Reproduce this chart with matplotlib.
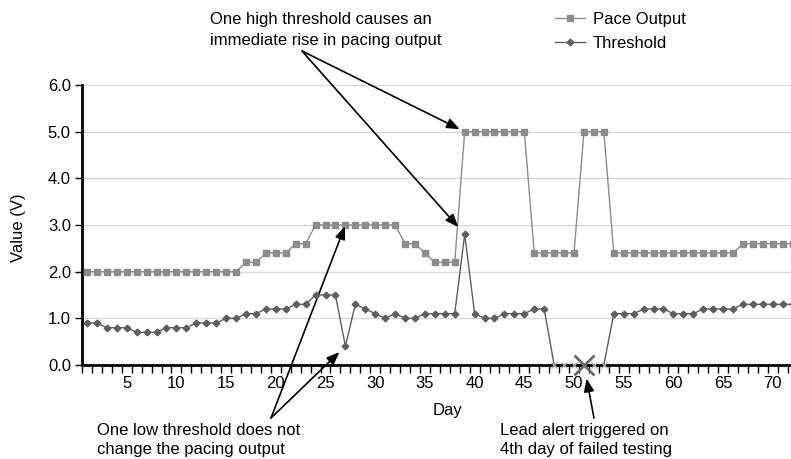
import matplotlib.pyplot as plt
import numpy as np

plt.rcParams['font.family'] = ['Liberation Sans', 'DejaVu Sans']

days = list(range(1, 73))

# pacing output (V)
pace = ([2.0] * 16 + [2.2] * 2 + [2.4] * 3 + [2.6] * 2 + [3.0] * 9 +
        [2.6] * 2 + [2.4] + [2.2] * 3 + [5.0] * 7 + [2.4] * 5 + [5.0] * 3 +
        [2.4] * 13 + [2.6] * 6)

# capture threshold (V), 0 on days the test failed
threshold = ([0.9] * 2 + [0.8] * 3 + [0.7] * 3 + [0.8] * 3 + [0.9] * 3 +
             [1.0] * 2 + [1.1] * 2 + [1.2] * 3 + [1.3] * 2 + [1.5] * 3 +
             [0.4, 1.3, 1.2, 1.1, 1.0, 1.1, 1.0, 1.0, 1.1, 1.1, 1.1, 1.1,
              2.8, 1.1, 1.0, 1.0, 1.1, 1.1, 1.1, 1.2, 1.2] +
             [0.0] * 6 + [1.1] * 3 + [1.2] * 3 + [1.1] * 3 + [1.2] * 4 +
             [1.3] * 6)

failed_days = [48, 49, 50, 51, 52, 53]
alert_day = 51

days = np.array(days)
pace = np.array(pace)
threshold = np.array(threshold)
ok = ~np.isin(days, failed_days)

fig = plt.figure(figsize=(7.91, 4.59), dpi=100)
ax = fig.add_axes([82 / 791, 1 - 365 / 459, 1 - 82 / 791, 280 / 459])

pace_col = '#8c8c8c'
thr_col = '#5e5e5e'

ax.plot(days, pace, color=pace_col, lw=1.0, marker='s', ms=4.4,
        mec=pace_col, mfc=pace_col, zorder=3)
ax.plot(days, threshold, color=thr_col, lw=1.0, zorder=3)
ax.plot(days[ok], threshold[ok], ls='none', marker='D', ms=3.4,
        color=thr_col, zorder=4)
ax.plot(days[~ok], threshold[~ok], ls='none', marker='x', ms=5,
        mew=0.9, color='#a8a8a8', zorder=5, clip_on=False)
ax.plot([alert_day], [0], ls='none', marker='x', ms=14, mew=2,
        color='#6a6a6a', zorder=6, clip_on=False)

# legend top right, outside the axes
ax.plot([], [], color=pace_col, lw=1.0, marker='s', ms=4.4, label='Pace Output')
ax.plot([], [], color=thr_col, lw=1.0, marker='D', ms=3.4, label='Threshold')
h, l = ax.get_legend_handles_labels()
fig.legend(h[-2:], l[-2:], loc='upper left', bbox_to_anchor=(548 / 791, 1 - 5 / 459),
           frameon=False, fontsize=12, handlelength=1.8, handletextpad=0.5,
           labelspacing=0.55, borderaxespad=0)

ax.set_xlim(0.5, 71.83)
ax.set_ylim(0, 6)
ax.set_yticks(np.arange(0, 7, 1.0))
ax.set_yticklabels([f'{v:.1f}' for v in np.arange(0, 7, 1.0)], fontsize=12)
ax.set_xticks(range(5, 71, 5))
ax.set_xticklabels([str(d) for d in range(5, 71, 5)], fontsize=12)
ax.set_xticks(np.arange(0.5, 72, 1.0), minor=True)
ax.tick_params(axis='x', which='major', length=0, pad=8)
ax.tick_params(axis='x', which='minor', length=6, width=1, direction='out')
ax.tick_params(axis='y', length=5, width=1, direction='out', pad=3)
ax.grid(axis='y', color='#d9d9d9', lw=1)
ax.set_axisbelow(True)
for s in ['top', 'right']:
    ax.spines[s].set_visible(False)
for s in ['left', 'bottom']:
    ax.spines[s].set_linewidth(2)
ax.spines['bottom'].set_zorder(4)

fig.text(18 / 791, 1 - 228 / 459, 'Value (V)', rotation=90, fontsize=12,
         ha='center', va='center')
fig.text(447 / 791, 1 - 410 / 459, 'Day', fontsize=12, ha='center', va='center')

fig.text(210 / 791, 1 - 30 / 459,
         'One high threshold causes an\nimmediate rise in pacing output',
         fontsize=12, ha='left', va='center', linespacing=1.5)
fig.text(97 / 791, 1 - 440 / 459,
         'One low threshold does not\nchange the pacing output',
         fontsize=12, ha='left', va='center', linespacing=1.35)
fig.text(500 / 791, 1 - 440 / 459,
         'Lead alert triggered on\n4th day of failed testing',
         fontsize=12, ha='left', va='center', linespacing=1.35)

arrow = dict(arrowstyle='-|>,head_length=0.55,head_width=0.22', color='black',
             lw=1.2, shrinkA=0, mutation_scale=14)
i39 = 38
i27 = 26
ax.annotate('', xy=(days[i39], pace[i39]), xytext=(302, 459 - 51),
            textcoords='figure pixels', arrowprops=dict(arrow, shrinkB=4))
ax.annotate('', xy=(days[i39], threshold[i39]), xytext=(302, 459 - 51),
            textcoords='figure pixels', arrowprops=dict(arrow, shrinkB=7))
ax.annotate('', xy=(days[i27], pace[i27]), xytext=(271, 459 - 418),
            textcoords='figure pixels', arrowprops=dict(arrow, shrinkB=1))
ax.annotate('', xy=(days[i27], threshold[i27]), xytext=(271, 459 - 418),
            textcoords='figure pixels', arrowprops=dict(arrow, shrinkB=6))
ax.annotate('', xy=(alert_day, 0), xytext=(594, 459 - 418),
            textcoords='figure pixels', arrowprops=dict(arrow, shrinkB=10))

fig.savefig('out.png', dpi=100)
